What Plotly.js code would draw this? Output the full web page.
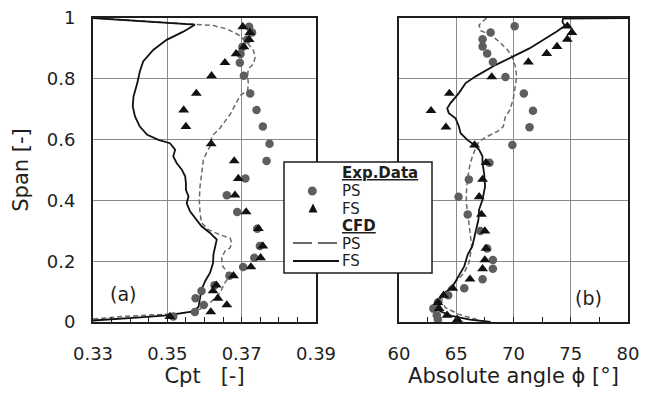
<!DOCTYPE html>
<html>
<head>
<meta charset="utf-8">
<script src="https://cdn.plot.ly/plotly-3.0.1.min.js"></script>
<style>html,body{margin:0;padding:0;background:#fff;}#chart{width:647px;height:397px;}</style>
</head>
<body>
<div id="chart"></div>
<script>
// ---------- Data ----------
// Panel (a): total pressure coefficient Cpt vs span
const expSpanA = [0.971, 0.952, 0.929, 0.905, 0.882, 0.853, 0.810, 0.752, 0.697, 0.643, 0.586, 0.530, 0.472, 0.417, 0.362, 0.307, 0.250, 0.211, 0.181, 0.152, 0.121, 0.102, 0.078, 0.056, 0.033, 0.018];
const expCptPS = [0.3720, 0.3728, 0.3715, 0.3702, 0.3697, 0.3695, 0.3706, 0.3723, 0.3740, 0.3757, 0.3775, 0.3767, 0.3710, 0.3660, 0.3688, 0.3742, 0.3749, 0.3734, 0.3704, 0.3667, 0.3627, 0.3592, 0.3576, 0.3598, 0.3574, 0.3516];
const expCptFS = [0.3703, 0.3722, 0.3720, 0.3706, 0.3685, 0.3655, 0.3619, 0.3578, 0.3544, 0.3550, 0.3618, 0.3680, 0.3691, 0.3682, 0.3712, 0.3745, 0.3757, 0.3751, 0.3725, 0.3678, 0.3632, 0.3623, 0.3636, 0.3660, 0.3617, 0.3507];

const cfdSpanFSa = [1.000, 0.991, 0.986, 0.978, 0.955, 0.928, 0.895, 0.857, 0.824, 0.785, 0.742, 0.709, 0.676, 0.643, 0.616, 0.599, 0.588, 0.567, 0.545, 0.523, 0.501, 0.479, 0.457, 0.435, 0.413, 0.391, 0.364, 0.337, 0.315, 0.293, 0.271, 0.244, 0.222, 0.194, 0.162, 0.135, 0.107, 0.079, 0.050, 0.035, 0.022, 0.015, 0.005];
const cfdCptFS   = [0.3300, 0.3420, 0.3482, 0.3574, 0.3543, 0.3498, 0.3462, 0.3435, 0.3426, 0.3419, 0.3409, 0.3407, 0.3413, 0.3426, 0.3446, 0.3476, 0.3507, 0.3521, 0.3516, 0.3525, 0.3539, 0.3548, 0.3550, 0.3550, 0.3557, 0.3552, 0.3561, 0.3579, 0.3592, 0.3615, 0.3633, 0.3628, 0.3624, 0.3623, 0.3615, 0.3602, 0.3592, 0.3588, 0.3584, 0.3570, 0.3499, 0.3427, 0.3300];

const cfdSpanPSa = [1.000, 0.991, 0.986, 0.977, 0.975, 0.964, 0.945, 0.920, 0.893, 0.871, 0.849, 0.833, 0.811, 0.783, 0.761, 0.745, 0.718, 0.685, 0.660, 0.638, 0.616, 0.599, 0.577, 0.558, 0.534, 0.490, 0.446, 0.402, 0.359, 0.326, 0.304, 0.287, 0.276, 0.260, 0.244, 0.233, 0.211, 0.183, 0.167, 0.145, 0.129, 0.112, 0.096, 0.079, 0.063, 0.047, 0.036, 0.028, 0.019, 0.010];
const cfdCptPS   = [0.3300, 0.3420, 0.3482, 0.3575, 0.3624, 0.3660, 0.3691, 0.3714, 0.3732, 0.3736, 0.3732, 0.3718, 0.3716, 0.3718, 0.3716, 0.3696, 0.3685, 0.3670, 0.3655, 0.3642, 0.3624, 0.3617, 0.3615, 0.3606, 0.3597, 0.3592, 0.3588, 0.3586, 0.3588, 0.3592, 0.3610, 0.3642, 0.3669, 0.3673, 0.3669, 0.3655, 0.3646, 0.3649, 0.3660, 0.3664, 0.3655, 0.3648, 0.3642, 0.3628, 0.3615, 0.3597, 0.3574, 0.3534, 0.3390, 0.3300];

// Panel (b): absolute flow angle vs span
const expSpanB = [0.973, 0.952, 0.930, 0.906, 0.883, 0.855, 0.806, 0.752, 0.695, 0.641, 0.582, 0.524, 0.469, 0.412, 0.354, 0.299, 0.242, 0.204, 0.175, 0.141, 0.111, 0.088, 0.064, 0.044, 0.022, 0.008];
const expAngPS = [70.1, 68.0, 67.3, 67.3, 67.7, 68.2, 69.3, 70.9, 71.7, 71.4, 69.9, 67.9, 66.1, 65.2, 66.0, 67.1, 67.7, 68.2, 68.2, 67.3, 65.7, 64.3, 63.4, 63.0, 63.3, 63.4];
const expAngFS = [74.7, 75.1, 74.7, 73.8, 72.9, 71.3, 68.1, 64.4, 62.8, 64.1, 66.6, 67.6, 67.3, 67.0, 67.2, 67.5, 67.6, 67.5, 67.3, 66.2, 64.7, 63.9, 63.4, 63.5, 64.2, 65.1];

const cfdSpanFSb = [1.000, 0.998, 0.988, 0.974, 0.955, 0.928, 0.900, 0.873, 0.846, 0.808, 0.786, 0.753, 0.720, 0.703, 0.687, 0.670, 0.643, 0.621, 0.599, 0.583, 0.567, 0.545, 0.523, 0.490, 0.446, 0.402, 0.369, 0.337, 0.293, 0.249, 0.222, 0.183, 0.151, 0.118, 0.096, 0.074, 0.052, 0.035, 0.019, 0.008, 0.000];
const cfdAngFS   = [80.0, 74.33, 74.27, 74.47, 73.74, 72.57, 71.39, 69.93, 68.46, 66.70, 65.82, 65.23, 64.50, 64.21, 64.35, 64.94, 65.23, 65.38, 65.97, 66.55, 66.99, 67.29, 67.29, 67.43, 67.52, 67.29, 66.99, 66.94, 66.70, 66.40, 66.00, 65.70, 65.20, 64.70, 64.00, 63.50, 63.30, 63.60, 64.70, 66.20, 68.00];

const cfdSpanPSb = [1.000, 0.977, 0.958, 0.944, 0.922, 0.895, 0.868, 0.840, 0.807, 0.774, 0.736, 0.698, 0.674, 0.643, 0.627, 0.608, 0.594, 0.572, 0.545, 0.512, 0.468, 0.424, 0.391, 0.359, 0.326, 0.293, 0.249, 0.194, 0.161, 0.134, 0.112, 0.090, 0.068, 0.047, 0.025, 0.006];
const cfdAngPS   = [67.64, 66.99, 67.14, 68.02, 68.75, 69.49, 69.93, 70.16, 70.28, 70.16, 69.99, 69.69, 69.28, 69.11, 68.61, 67.58, 66.99, 66.70, 66.41, 66.17, 65.97, 65.88, 65.88, 66.00, 66.11, 66.26, 66.35, 66.11, 65.67, 65.00, 64.35, 63.91, 63.71, 64.06, 65.23, 66.99];

// Tick labels
const xTickValsA = [0.33, 0.35, 0.37, 0.39];
const xTickTextA = ['0.33', '0.35', '0.37', '0.39'];
const xTickValsB = [60, 65, 70, 75, 80];
const xTickTextB = ['60', '65', '70', '75', '80'];
const yTickVals = [0, 0.2, 0.4, 0.6, 0.8, 1];
const yTickText = ['0', '0.2', '0.4', '0.6', '0.8', '1'];

// Legend texts
const legendHeadExp = 'Exp.Data';
const legendHeadCFD = 'CFD';
const legendPS = 'PS';
const legendFS = 'FS';

// ---------- Styling ----------
const FONT = 'DejaVu Sans, Verdana, sans-serif';
const TXT = '#1e1e1e';
const GRID = '#8a8a8a';
const BORDER = '#1e1e1e';
const GREY = '#5e5e5e';
const W = 647, H = 397;
const M = {l: 93, r: 19, t: 18, b: 75};
const PW = W - M.l - M.r, PH = H - M.t - M.b;
const px = v => (v - M.l) / PW;
const py = v => 1 - (v - M.t) / PH;

function lineTrace(x, y, xa, ya, color, width, dash) {
  return {type: 'scatter', mode: 'lines', x: x, y: y, xaxis: xa, yaxis: ya,
    line: {color: color, width: width, dash: dash}, showlegend: false, hoverinfo: 'skip'};
}
function markTrace(x, y, xa, ya, symbol, color, size) {
  return {type: 'scatter', mode: 'markers', x: x, y: y, xaxis: xa, yaxis: ya,
    marker: {symbol: symbol, color: color, size: size, line: {width: 0}}, showlegend: false, hoverinfo: 'skip'};
}

const traces = [
  lineTrace(cfdCptPS, cfdSpanPSa, 'x', 'y', '#6a6a6a', 1.5, '5px,3px'),
  lineTrace(cfdCptFS, cfdSpanFSa, 'x', 'y', '#111', 1.8, 'solid'),
  markTrace(expCptPS, expSpanA, 'x', 'y', 'circle', GREY, 8.5),
  markTrace(expCptFS, expSpanA, 'x', 'y', 'triangle-up', '#111', 9.5),
  lineTrace(cfdAngPS, cfdSpanPSb, 'x2', 'y2', '#6a6a6a', 1.5, '5px,3px'),
  lineTrace(cfdAngFS, cfdSpanFSb, 'x2', 'y2', '#111', 1.8, 'solid'),
  markTrace(expAngPS, expSpanB, 'x2', 'y2', 'circle', GREY, 8.5),
  markTrace(expAngFS, expSpanB, 'x2', 'y2', 'triangle-up', '#111', 9.5)
];

function xAxis(domain, range, vals, text, minorD, titleText) {
  return {
    domain: domain, range: range, tickmode: 'array', tickvals: vals, ticktext: text,
    showgrid: true, gridcolor: GRID, gridwidth: 1, zeroline: false,
    showline: true, mirror: true, linecolor: BORDER, linewidth: 2,
    ticks: 'inside', ticklen: 5, tickcolor: BORDER, tickwidth: 1,
    minor: {tickmode: 'linear', tick0: range[0], dtick: minorD, ticks: 'inside', ticklen: 5, tickcolor: BORDER, tickwidth: 1, showgrid: false},
    tickfont: {family: FONT, size: 18, color: TXT}, ticklabelstandoff: 14,
    title: {text: titleText, font: {family: FONT, size: 21, color: TXT}, standoff: 6},
    fixedrange: true
  };
}

const layout = {
  width: W, height: H, margin: M,
  paper_bgcolor: '#fff', plot_bgcolor: '#fff', showlegend: false,
  xaxis: xAxis([0, px(316)], [0.33, 0.39], xTickValsA, xTickTextA, 0.005, 'Cpt\u00a0\u00a0\u00a0[-]'),
  xaxis2: xAxis([px(399), 1], [60, 80], xTickValsB, xTickTextB, 2.5, 'Absolute angle \u03d5 [\u00b0]'),
  yaxis: {
    domain: [0, 1], range: [0, 1], tickmode: 'array', tickvals: yTickVals, ticktext: yTickText,
    showgrid: true, gridcolor: GRID, zeroline: false, showline: true, mirror: true,
    linecolor: BORDER, linewidth: 2, ticks: '', tickfont: {family: FONT, size: 18, color: TXT},
    ticklabelstandoff: 12,
    title: {text: 'Span [-]', font: {family: FONT, size: 21, color: TXT}, standoff: 12},
    anchor: 'x', fixedrange: true
  },
  yaxis2: {
    domain: [0, 1], range: [0, 1], tickmode: 'array', tickvals: yTickVals, ticktext: yTickText,
    showticklabels: false, showgrid: true, gridcolor: GRID, zeroline: false, showline: true, mirror: true,
    linecolor: BORDER, linewidth: 2, ticks: '', anchor: 'x2', fixedrange: true
  },
  shapes: [
    // legend box
    {type: 'rect', xref: 'paper', yref: 'paper', x0: px(284), x1: px(432), y0: py(273), y1: py(162),
      fillcolor: '#fff', line: {color: BORDER, width: 1.5}, layer: 'above'},
    // circle key
    {type: 'circle', xref: 'paper', yref: 'paper', x0: px(307.8), x1: px(316.8), y0: py(195.5), y1: py(186.5),
      fillcolor: GREY, line: {width: 0}, layer: 'above'},
    // triangle key
    {type: 'path', xref: 'paper', yref: 'paper',
      path: 'M ' + px(308.5) + ' ' + py(212.5) + ' L ' + px(317.5) + ' ' + py(212.5) + ' L ' + px(313) + ' ' + py(203.5) + ' Z',
      fillcolor: '#111', line: {width: 0}, layer: 'above'},
    // dashed key
    {type: 'line', xref: 'paper', yref: 'paper', x0: px(293), x1: px(339), y0: py(243), y1: py(243),
      line: {color: '#6a6a6a', width: 2, dash: '19px,6px'}, layer: 'above'},
    // solid key
    {type: 'line', xref: 'paper', yref: 'paper', x0: px(293), x1: px(339), y0: py(261), y1: py(261),
      line: {color: '#111', width: 2}, layer: 'above'}
  ],
  annotations: [
    {text: '<b><u>' + legendHeadExp + '</u></b>', xref: 'paper', yref: 'paper', x: px(340), y: py(173), xanchor: 'left', yanchor: 'middle', showarrow: false, font: {family: FONT, size: 15, color: TXT}},
    {text: legendPS, xref: 'paper', yref: 'paper', x: px(340), y: py(191), xanchor: 'left', yanchor: 'middle', showarrow: false, font: {family: FONT, size: 15, color: TXT}},
    {text: legendFS, xref: 'paper', yref: 'paper', x: px(340), y: py(208.5), xanchor: 'left', yanchor: 'middle', showarrow: false, font: {family: FONT, size: 15, color: TXT}},
    {text: '<b><u>' + legendHeadCFD + '</u></b>', xref: 'paper', yref: 'paper', x: px(340), y: py(226), xanchor: 'left', yanchor: 'middle', showarrow: false, font: {family: FONT, size: 15, color: TXT}},
    {text: legendPS, xref: 'paper', yref: 'paper', x: px(340), y: py(243.5), xanchor: 'left', yanchor: 'middle', showarrow: false, font: {family: FONT, size: 15, color: TXT}},
    {text: legendFS, xref: 'paper', yref: 'paper', x: px(340), y: py(261), xanchor: 'left', yanchor: 'middle', showarrow: false, font: {family: FONT, size: 15, color: TXT}},
    {text: '(a)', xref: 'paper', yref: 'paper', x: px(123), y: py(294), xanchor: 'center', yanchor: 'middle', showarrow: false, font: {family: FONT, size: 19, color: TXT}},
    {text: '(b)', xref: 'paper', yref: 'paper', x: px(588), y: py(298), xanchor: 'center', yanchor: 'middle', showarrow: false, font: {family: FONT, size: 19, color: TXT}}
  ]
};

Plotly.newPlot('chart', traces, layout, {staticPlot: true, displayModeBar: false});
</script>
</body>
</html>
